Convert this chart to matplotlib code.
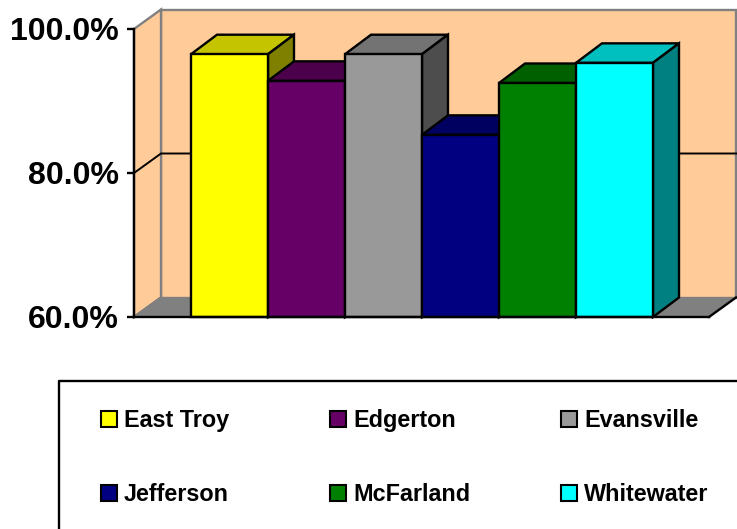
import matplotlib
matplotlib.use("Agg")
import matplotlib.pyplot as plt
from matplotlib.patches import Polygon, Rectangle
from matplotlib.ticker import FuncFormatter

plt.rcParams['font.family'] = ['Liberation Sans', 'DejaVu Sans']

# datos
ciudades = ["East Troy", "Edgerton", "Evansville", "Jefferson", "McFarland", "Whitewater"]
valores = [96.5, 92.8, 96.5, 85.3, 92.5, 95.3]
ticks_y = [60, 80, 100]

colores = ["#ffff00", "#660066", "#999999", "#000080", "#008000", "#00ffff"]
arriba = ["#c4c400", "#4c004c", "#737373", "#000060", "#006000", "#00bfbf"]
lado = ["#808000", "#330033", "#4d4d4d", "#000040", "#004000", "#008080"]

DURAZNO = "#ffcc99"
GRIS = "#808080"
LW = 1.7

W, H = 737, 529
fig = plt.figure(figsize=(W / 100, H / 100), dpi=100, facecolor="white")

# el eje ocupa el plano frontal del grafico (pixeles 134-709, 29-317)
ax = fig.add_axes([134 / W, 1 - 317 / H, (709 - 134) / W, (317 - 29) / H])
ancho_px = 77
ax.set_xlim((134 - 191) / ancho_px, (709 - 191) / ancho_px)
ax.set_ylim(60, 100)
ax.patch.set_visible(False)

# profundidad 3D en unidades de datos
dx = 27 / ancho_px
dy = 19.5 / (288 / 40)
dx_barra = 26 / ancho_px
x0, x1 = ax.get_xlim()
y0, y1 = ax.get_ylim()


def cara(puntos, color, borde="black", z=2):
    ax.add_patch(Polygon(puntos, closed=True, facecolor=color, edgecolor=borde,
                         linewidth=LW, clip_on=False, zorder=z, joinstyle="miter"))


# paredes y piso
cara([(x0 + dx, y0 + dy), (x1 + dx, y0 + dy), (x1 + dx, y1 + dy), (x0 + dx, y1 + dy)], DURAZNO, GRIS, 1)
cara([(x0, y0), (x0 + dx, y0 + dy), (x0 + dx, y1 + dy), (x0, y1)], DURAZNO, GRIS, 1)
ax.add_patch(Polygon([(x0, y0), (x1, y0), (x1 + dx, y0 + dy), (x0 + dx, y0 + dy)], closed=True,
                     facecolor=GRIS, edgecolor="none", clip_on=False, zorder=1))
ax.plot([x1, x1 + dx], [y0, y0 + dy], color="black", lw=LW, clip_on=False, zorder=1.5)
ax.plot([x0, x0 + dx], [y0, y0 + dy], color=GRIS, lw=LW, clip_on=False, zorder=1.5)

# linea de grilla en 80%
ax.plot([x0, x0 + dx, x1 + dx], [80, 80 + dy, 80 + dy], color="black", lw=1.4,
        clip_on=False, zorder=1.5)

# barras, de izquierda a derecha para que tapen bien
for i, v in enumerate(valores):
    z = 2 + i * 0.1
    cara([(i, v), (i + 1, v), (i + 1 + dx_barra, v + dy), (i + dx_barra, v + dy)], arriba[i], z=z)
    cara([(i + 1, y0), (i + 1 + dx_barra, y0 + dy), (i + 1 + dx_barra, v + dy), (i + 1, v)], lado[i], z=z)
    cara([(i, y0), (i + 1, y0), (i + 1, v), (i, v)], colores[i], z=z)

ax.set_xticks([])
ax.set_yticks(ticks_y)
ax.yaxis.set_major_formatter(FuncFormatter(lambda v, pos: f"{v:.1f}%"))
ax.tick_params(axis="y", length=5, width=LW, pad=6, labelsize=23)
for t in ax.get_yticklabels():
    t.set_fontweight("bold")
for lado_eje in ["top", "right"]:
    ax.spines[lado_eje].set_visible(False)
ax.spines["left"].set_linewidth(LW)
ax.spines["left"].set_zorder(5)
ax.spines["bottom"].set_linewidth(LW)
ax.spines["bottom"].set_zorder(5)

# leyenda, dibujada en pixeles porque el cuadro se sale de la figura
leg = fig.add_axes([0, 0, 1, 1])
leg.set_xlim(0, W)
leg.set_ylim(H, 0)
leg.axis("off")
leg.plot([59, 59, W + 5], [H + 5, 381, 381], color="black", lw=LW, clip_on=False)

col_x = [101, 330, 561]
fila_y = [419, 493]
for i, nombre in enumerate(ciudades):
    x = col_x[i % 3]
    y = fila_y[i // 3]
    leg.add_patch(Rectangle((x, y - 8), 16, 16, facecolor=colores[i], edgecolor="black", linewidth=1.5))
    leg.text(x + 23, y + 8, nombre, fontsize=16.8, fontweight="bold", va="baseline", ha="left")

fig.savefig("out.png", dpi=100)
